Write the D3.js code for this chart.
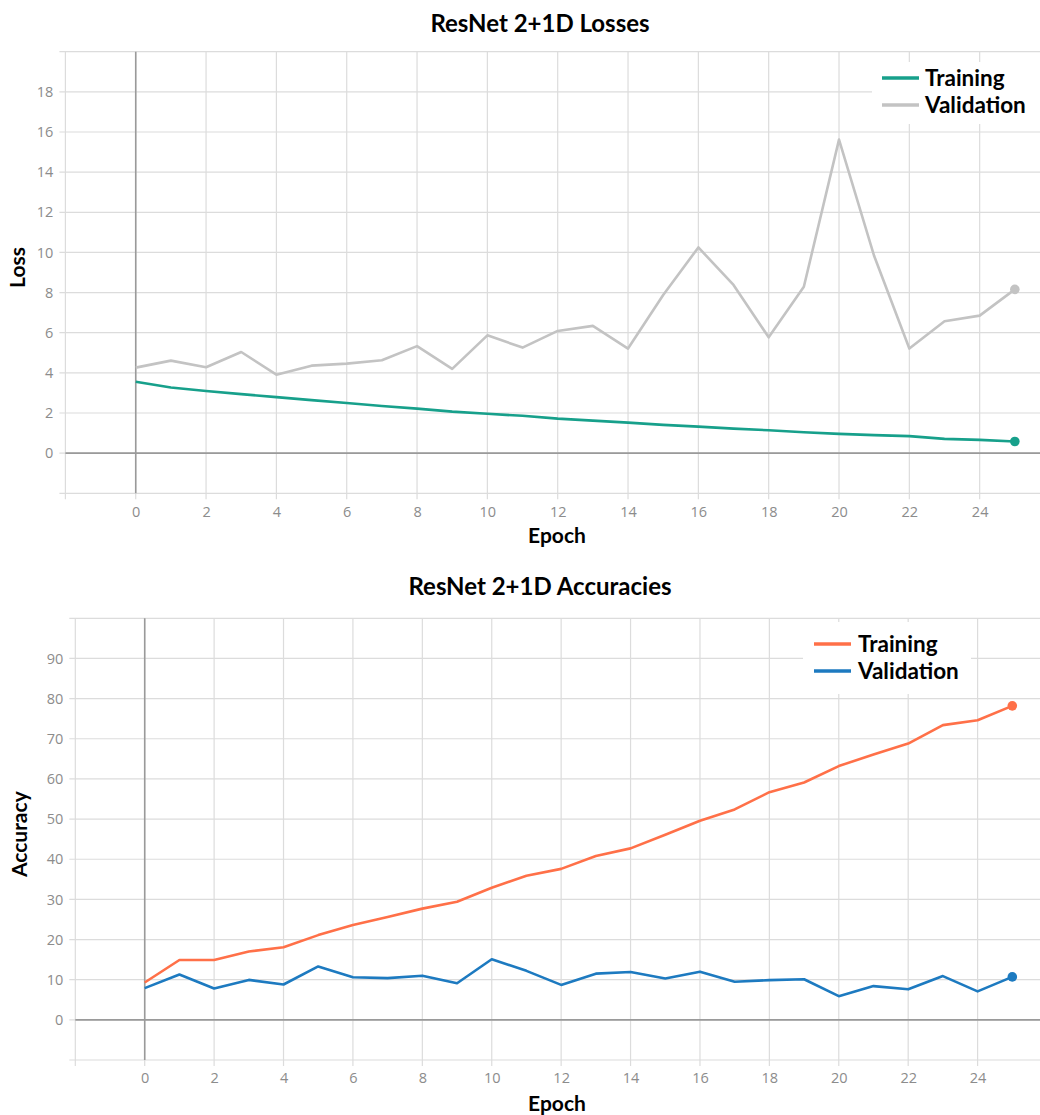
<!DOCTYPE html>
<html>
<head>
<meta charset="utf-8">
<script src="https://cdn.jsdelivr.net/npm/d3@7"></script>
<style>
  html, body { margin: 0; padding: 0; background: #fff; }
  svg { display: block; }
</style>
</head>
<body>
<svg id="chart" width="1040" height="1115"></svg>
<script>
const epochs = d3.range(0, 26);

const lossTraining = [3.56, 3.27, 3.10, 2.94, 2.79, 2.64, 2.50, 2.35, 2.22, 2.07, 1.96, 1.86, 1.72, 1.62, 1.52, 1.41, 1.32, 1.22, 1.14, 1.04, 0.96, 0.90, 0.85, 0.71, 0.66, 0.58];
const lossValidation = [4.26, 4.61, 4.28, 5.04, 3.91, 4.36, 4.46, 4.63, 5.33, 4.20, 5.87, 5.26, 6.09, 6.34, 5.21, 7.88, 10.25, 8.38, 5.77, 8.29, 15.62, 9.82, 5.21, 6.57, 6.85, 8.16];

const accTraining = [9.3, 14.9, 14.9, 17.0, 18.1, 21.1, 23.6, 25.6, 27.7, 29.4, 32.9, 35.9, 37.6, 40.8, 42.7, 46.1, 49.6, 52.4, 56.7, 59.1, 63.2, 66.1, 68.8, 73.4, 74.6, 78.2];
const accValidation = [7.9, 11.3, 7.8, 9.95, 8.8, 13.3, 10.6, 10.4, 11.0, 9.1, 15.1, 12.2, 8.7, 11.5, 11.9, 10.3, 12.0, 9.5, 9.9, 10.1, 5.9, 8.4, 7.6, 10.9, 7.1, 10.7];

const xTicks = [-2, 0, 2, 4, 6, 8, 10, 12, 14, 16, 18, 20, 22, 24, 26];
const lossTicks = [-2, 0, 2, 4, 6, 8, 10, 12, 14, 16, 18, 20];
const accTicks = [-10, 0, 10, 20, 30, 40, 50, 60, 70, 80, 90, 100];

const charts = [
  {
    title: "ResNet 2+1D Losses", ylabel: "Loss",
    yDomain: [-2, 20], yTicks: lossTicks, labelled: v => v >= 0 && v <= 18,
    left: 65.4, right: 1050, top: 51.7, bottom: 493.3,
    titleY: 32, ylabelX: 25, xlabelY: 543,
    legend: { x: 872, y: 62, w: 175, h: 62, lineX1: 882, lineX2: 919, y1: 78, y2: 105, textX: 925 },
    series: [
      { name: "Training", values: lossTraining, color: "#17a08b" },
      { name: "Validation", values: lossValidation, color: "#c3c3c3" }
    ]
  },
  {
    title: "ResNet 2+1D Accuracies", ylabel: "Accuracy",
    yDomain: [-10, 100], yTicks: accTicks, labelled: v => v >= 0 && v <= 90,
    left: 75.3, right: 1047, top: 618.3, bottom: 1060,
    titleY: 595, ylabelX: 27, xlabelY: 1111,
    legend: { x: 803, y: 622, w: 168, h: 72, lineX1: 814, lineX2: 851, y1: 644, y2: 671, textX: 858 },
    series: [
      { name: "Training", values: accTraining, color: "#ff7048" },
      { name: "Validation", values: accValidation, color: "#1d7ac0" }
    ]
  }
];

const svg = d3.select("#chart");
const labelFont = "'Open Sans', 'DejaVu Sans', sans-serif";
const boldFont = "Lato, 'Open Sans', sans-serif";

charts.forEach(c => {
  const x = d3.scaleLinear().domain([-2, 26]).range([c.left, c.right]);
  const y = d3.scaleLinear().domain(c.yDomain).range([c.bottom, c.top]);
  const g = svg.append("g");

  // grid
  g.append("g").selectAll("line").data(xTicks).join("line")
    .attr("x1", d => x(d)).attr("x2", d => x(d))
    .attr("y1", y(c.yDomain[1])).attr("y2", y(c.yDomain[0]) + 6)
    .attr("stroke", "#dcdcdc").attr("stroke-width", 1.2);
  g.append("g").selectAll("line").data(c.yTicks).join("line")
    .attr("x1", x(-2) - 6).attr("x2", 1040)
    .attr("y1", d => y(d)).attr("y2", d => y(d))
    .attr("stroke", "#dcdcdc").attr("stroke-width", 1.2);

  // zero lines
  g.append("line").attr("x1", x(0)).attr("x2", x(0))
    .attr("y1", y(c.yDomain[1])).attr("y2", y(c.yDomain[0]))
    .attr("stroke", "#9a9a9a").attr("stroke-width", 1.6);
  g.append("line").attr("x1", x(-2)).attr("x2", 1040)
    .attr("y1", y(0)).attr("y2", y(0))
    .attr("stroke", "#9a9a9a").attr("stroke-width", 1.6);

  // axes (labels only)
  const yAxis = d3.axisLeft(y).tickValues(c.yTicks.filter(c.labelled)).tickSize(0).tickPadding(12);
  const ya = g.append("g").attr("transform", `translate(${x(-2)},0)`).call(yAxis);
  ya.select(".domain").remove();
  ya.selectAll("text").attr("fill", "#8c8c8c").style("font-family", labelFont).style("font-size", "14.5px");

  const xAxis = d3.axisBottom(x).tickValues(xTicks.filter(v => v >= 0 && v <= 24)).tickSize(0).tickPadding(13);
  const xa = g.append("g").attr("transform", `translate(0,${y(c.yDomain[0])})`).call(xAxis);
  xa.select(".domain").remove();
  xa.selectAll("text").attr("fill", "#8c8c8c").style("font-family", labelFont).style("font-size", "14.5px");

  // titles
  g.append("text").attr("x", 540).attr("y", c.titleY).attr("text-anchor", "middle")
    .style("font-family", boldFont).style("font-weight", "bold").style("font-size", "24px")
    .attr("fill", "#000").text(c.title);
  g.append("text").attr("x", 557).attr("y", c.xlabelY).attr("text-anchor", "middle")
    .style("font-family", boldFont).style("font-weight", "bold").style("font-size", "21px")
    .attr("fill", "#000").text("Epoch");
  g.append("text")
    .attr("transform", `translate(${c.ylabelX},${(c.top + c.bottom) / 2 - 5}) rotate(-90)`)
    .attr("text-anchor", "middle")
    .style("font-family", boldFont).style("font-weight", "bold").style("font-size", "21px")
    .attr("fill", "#000").text(c.ylabel);

  // lines
  const line = d3.line().x((d, i) => x(epochs[i])).y(d => y(d));
  c.series.slice().reverse().forEach(s => {
    g.append("path").datum(s.values).attr("d", line)
      .attr("fill", "none").attr("stroke", s.color).attr("stroke-width", 2.6)
      .attr("stroke-linejoin", "round");
    const last = s.values.length - 1;
    g.append("circle").attr("cx", x(epochs[last])).attr("cy", y(s.values[last]))
      .attr("r", 4.8).attr("fill", s.color);
  });

  // legend
  const L = c.legend;
  g.append("rect").attr("x", L.x).attr("y", L.y).attr("width", L.w).attr("height", L.h).attr("fill", "#fff");
  c.series.forEach((s, i) => {
    const ly = i === 0 ? L.y1 : L.y2;
    g.append("line").attr("x1", L.lineX1).attr("x2", L.lineX2).attr("y1", ly).attr("y2", ly)
      .attr("stroke", s.color).attr("stroke-width", 3.5);
    g.append("text").attr("x", L.textX).attr("y", ly).attr("dy", "0.36em")
      .style("font-family", boldFont).style("font-weight", "bold").style("font-size", "22.5px")
      .attr("fill", "#000").text(s.name);
  });
});
</script>
</body>
</html>
